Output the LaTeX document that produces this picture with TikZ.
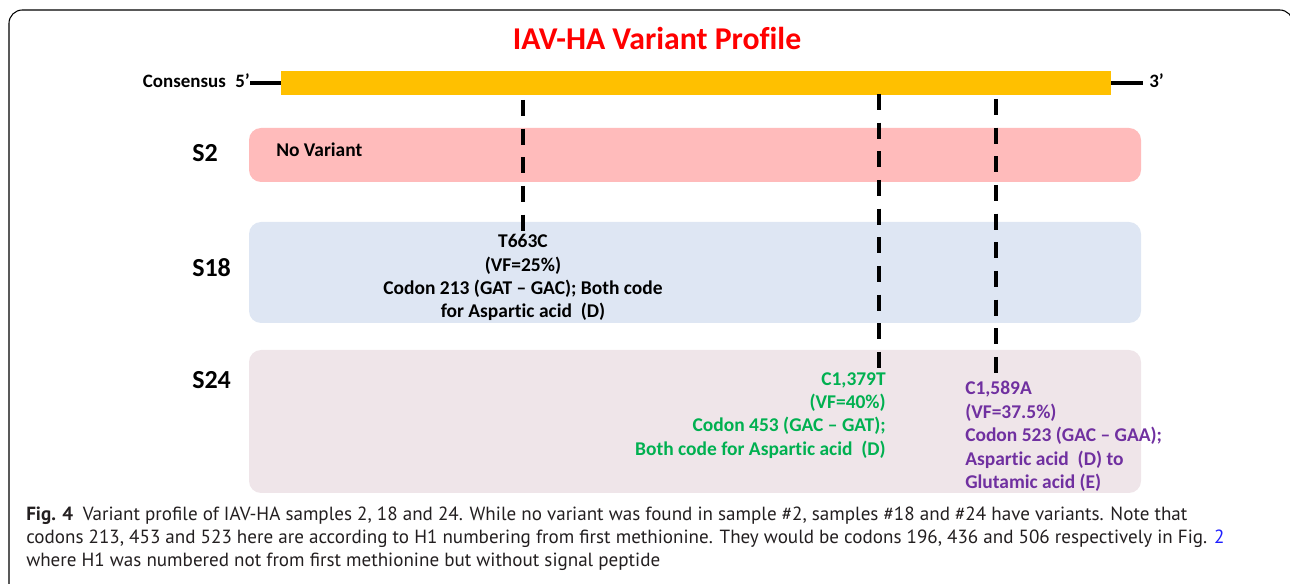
\documentclass[tikz,border=0pt]{standalone}
\usepackage{fontspec}
\setmainfont{Carlito}[Ligatures={TeX,NoCommon}]
\newfontfamily\capfont{PT Sans}
\usepackage{tikz}
\usetikzlibrary{positioning}
\definecolor{barorange}{RGB}{255,192,0}
\definecolor{pinkS}{RGB}{255,187,187}
\definecolor{blueS}{RGB}{222,230,243}
\definecolor{mauveS}{RGB}{239,229,233}
\definecolor{greenV}{RGB}{0,176,80}
\definecolor{purpleV}{RGB}{112,48,160}
\definecolor{figblue}{RGB}{30,30,255}
\definecolor{capgray}{RGB}{35,31,32}
\tikzstyle{sbox} = [rounded corners=9pt, minimum width=669pt, inner sep=0pt]
\tikzstyle{slabel} = [anchor=west, inner sep=0pt, font=\bfseries\fontsize{19.5}{22}\selectfont]
\tikzstyle{vtext} = [inner sep=0pt, font=\bfseries\fontsize{14.6}{17.6}\selectfont]
\tikzstyle{snpline} = [draw, line width=3pt, dash pattern=on 12pt off 9.5pt]
\tikzstyle{endline} = [draw, line width=3pt]

\begin{document}
\begin{tikzpicture}[x=0.75pt, y=-0.75pt]

\useasboundingbox (0,0) rectangle (1290,584);
\draw[line width=0.8pt, rounded corners=10pt] (9,600) rectangle (1293,10);

% title and consensus =============================

\node[font=\bfseries\fontsize{23.8}{28}\selectfont, text=red] (title) at (657,38) {IAV-HA Variant Profile};
\node[fill=barorange, minimum width=622.5pt, minimum height=18pt, inner sep=0pt] (bar) at (696,83) {};
\node[vtext, font=\bfseries\fontsize{14.2}{17}\selectfont, anchor=east] (five) at (250,81) {Consensus\enspace 5’};
\node[vtext, font=\bfseries\fontsize{14.2}{17}\selectfont, anchor=west] (three) at (1149,81) {3’};

% samples
\node[sbox, fill=pinkS, minimum height=40.5pt] (s2) at (695,155) {};
\node[sbox, fill=blueS, minimum height=75.75pt] (s18) at (695,272.5) {};
\node[sbox, fill=mauveS, minimum height=107.25pt] (s24) at (695,421.5) {};
\node[slabel] (l2) at (192,153) {S2};
\node[slabel] (l18) at (192,268) {S18};
\node[slabel] (l24) at (192,380) {S24};
\node[vtext, anchor=west] (novar) at (276,150) {No Variant};

% variants
\coordinate (snp1) at (523,100);
\coordinate (snp2) at (879,94);
\coordinate (snp3) at (996,99);
\node[vtext, align=center, anchor=north] (t663c) at (523,234)
  {T663C\\(VF=25\%)\\Codon 213 (GAT – GAC); Both code\\for Aspartic acid\ \ (D)};
\node[vtext, text=greenV, align=right, anchor=north east] (c1379t) at (886,372)
  {C1,379T\\(VF=40\%)\\Codon 453 (GAC – GAT);\\Both code for Aspartic acid\ \ (D)};
\node[vtext, text=purpleV, align=left, anchor=north west] (c1589a) at (965,381)
  {C1,589A\\(VF=37.5\%)\\Codon 523 (GAC – GAA);\\Aspartic acid\ \ (D) to\\Glutamic acid (E)};

% caption
\node[anchor=north west, align=left, inner sep=0pt, text=capgray, font=\capfont\fontsize{14.3}{17.25}\selectfont] (caption) at (26,507)
  {\textbf{Fig. 4}\enspace Variant profile of IAV-HA samples 2, 18 and 24. While no variant was found in sample \#2, samples \#18 and \#24 have variants. Note that\\
   codons 213, 453 and 523 here are according to H1 numbering from first methionine. They would be codons 196, 436 and 506 respectively in Fig. \textcolor{figblue}{2}\\
   where H1 was numbered not from first methionine but without signal peptide};

%edges
\path[endline] (bar.west -| five.east) -- (bar.west);
\path[endline, shorten >=4.5pt] (bar.east) -- (bar.east -| three.west);
\path[snpline] (snp1) -- (t663c.north);
\path[snpline] (snp2) -- (snp2 |- c1379t.north);
\path[snpline] (snp3) -- (snp3 |- c1589a.north);

\end{tikzpicture}
\end{document}
